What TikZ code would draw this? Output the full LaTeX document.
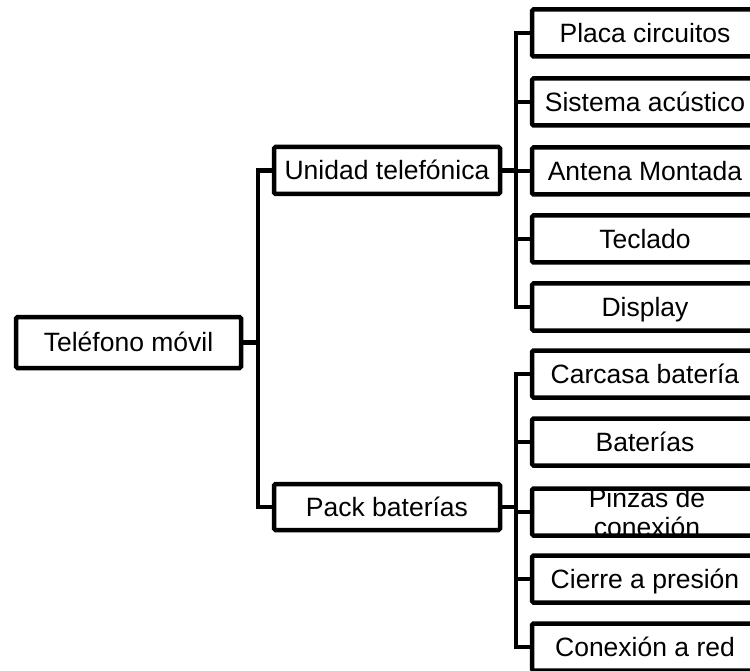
\documentclass[tikz,border=0pt]{standalone}
\usepackage{fontspec}
\setmainfont{Liberation Sans}
\begin{document}
\begin{tikzpicture}[x=1pt,y=-1pt,
  txt/.style={font=\fontsize{26.5}{29}\selectfont, inner sep=0pt},
  box/.style={txt, draw, line width=4.5pt, rounded corners=1.5pt, inner sep=0pt,
    minimum width=226pt, minimum height=47pt, text height=24pt, text depth=5.6pt},
  conn/.style={line width=4.5pt, line join=miter}]
\useasboundingbox (0,0) rectangle (750,671);
\clip (0,0) rectangle (750,671);
% root and second level
\node[box, minimum width=225pt, minimum height=51pt] (root) at (128.5,342.5) {Teléfono móvil};
\node[box] (u) at (387,170.5) {Unidad telefónica};
\node[box, minimum height=46pt] (p) at (387,507) {Pack baterías};
% leaves of Unidad telefónica
\node[box] (a1) at (645,33) {Placa circuitos};
\node[box] (a2) at (645,102) {Sistema acústico};
\node[box] (a3) at (645,171) {Antena Montada};
\node[box] (a4) at (645,239) {Teclado};
\node[box] (a5) at (645,307) {Display};
% leaves of Pack baterías
\node[box] (b1) at (645,374) {Carcasa batería};
\node[box] (b2) at (645,442) {Baterías};
\node[txt, align=center] (b3t) at (647,512.5) {Pinzas de\\conexión};
\node[box] (b3) at (645,512) {};
\node[box] (b4) at (645,579) {Cierre a presión};
\node[box] (b5) at (645,647) {Conexión a red};
% spines
\coordinate (s1) at (258,342.5);
\coordinate (s2) at (516,170.5);
\coordinate (s3) at (516,507);
\draw[conn] (root.east) -- (s1);
\draw[conn] (u.west) -| (s1) |- (p.west);
\draw[conn] (u.east) -- (s2);
\draw[conn] (a1.west) -| (s2) |- (a5.west);
\foreach \n in {a2,a3,a4} \draw[conn] (\n.west) -- (\n.west -| s2);
\draw[conn] (p.east) -- (s3);
\draw[conn] (b1.west) -| (s3) |- (b5.west);
\foreach \n in {b2,b3,b4} \draw[conn] (\n.west) -- (\n.west -| s3);
\end{tikzpicture}
\end{document}
